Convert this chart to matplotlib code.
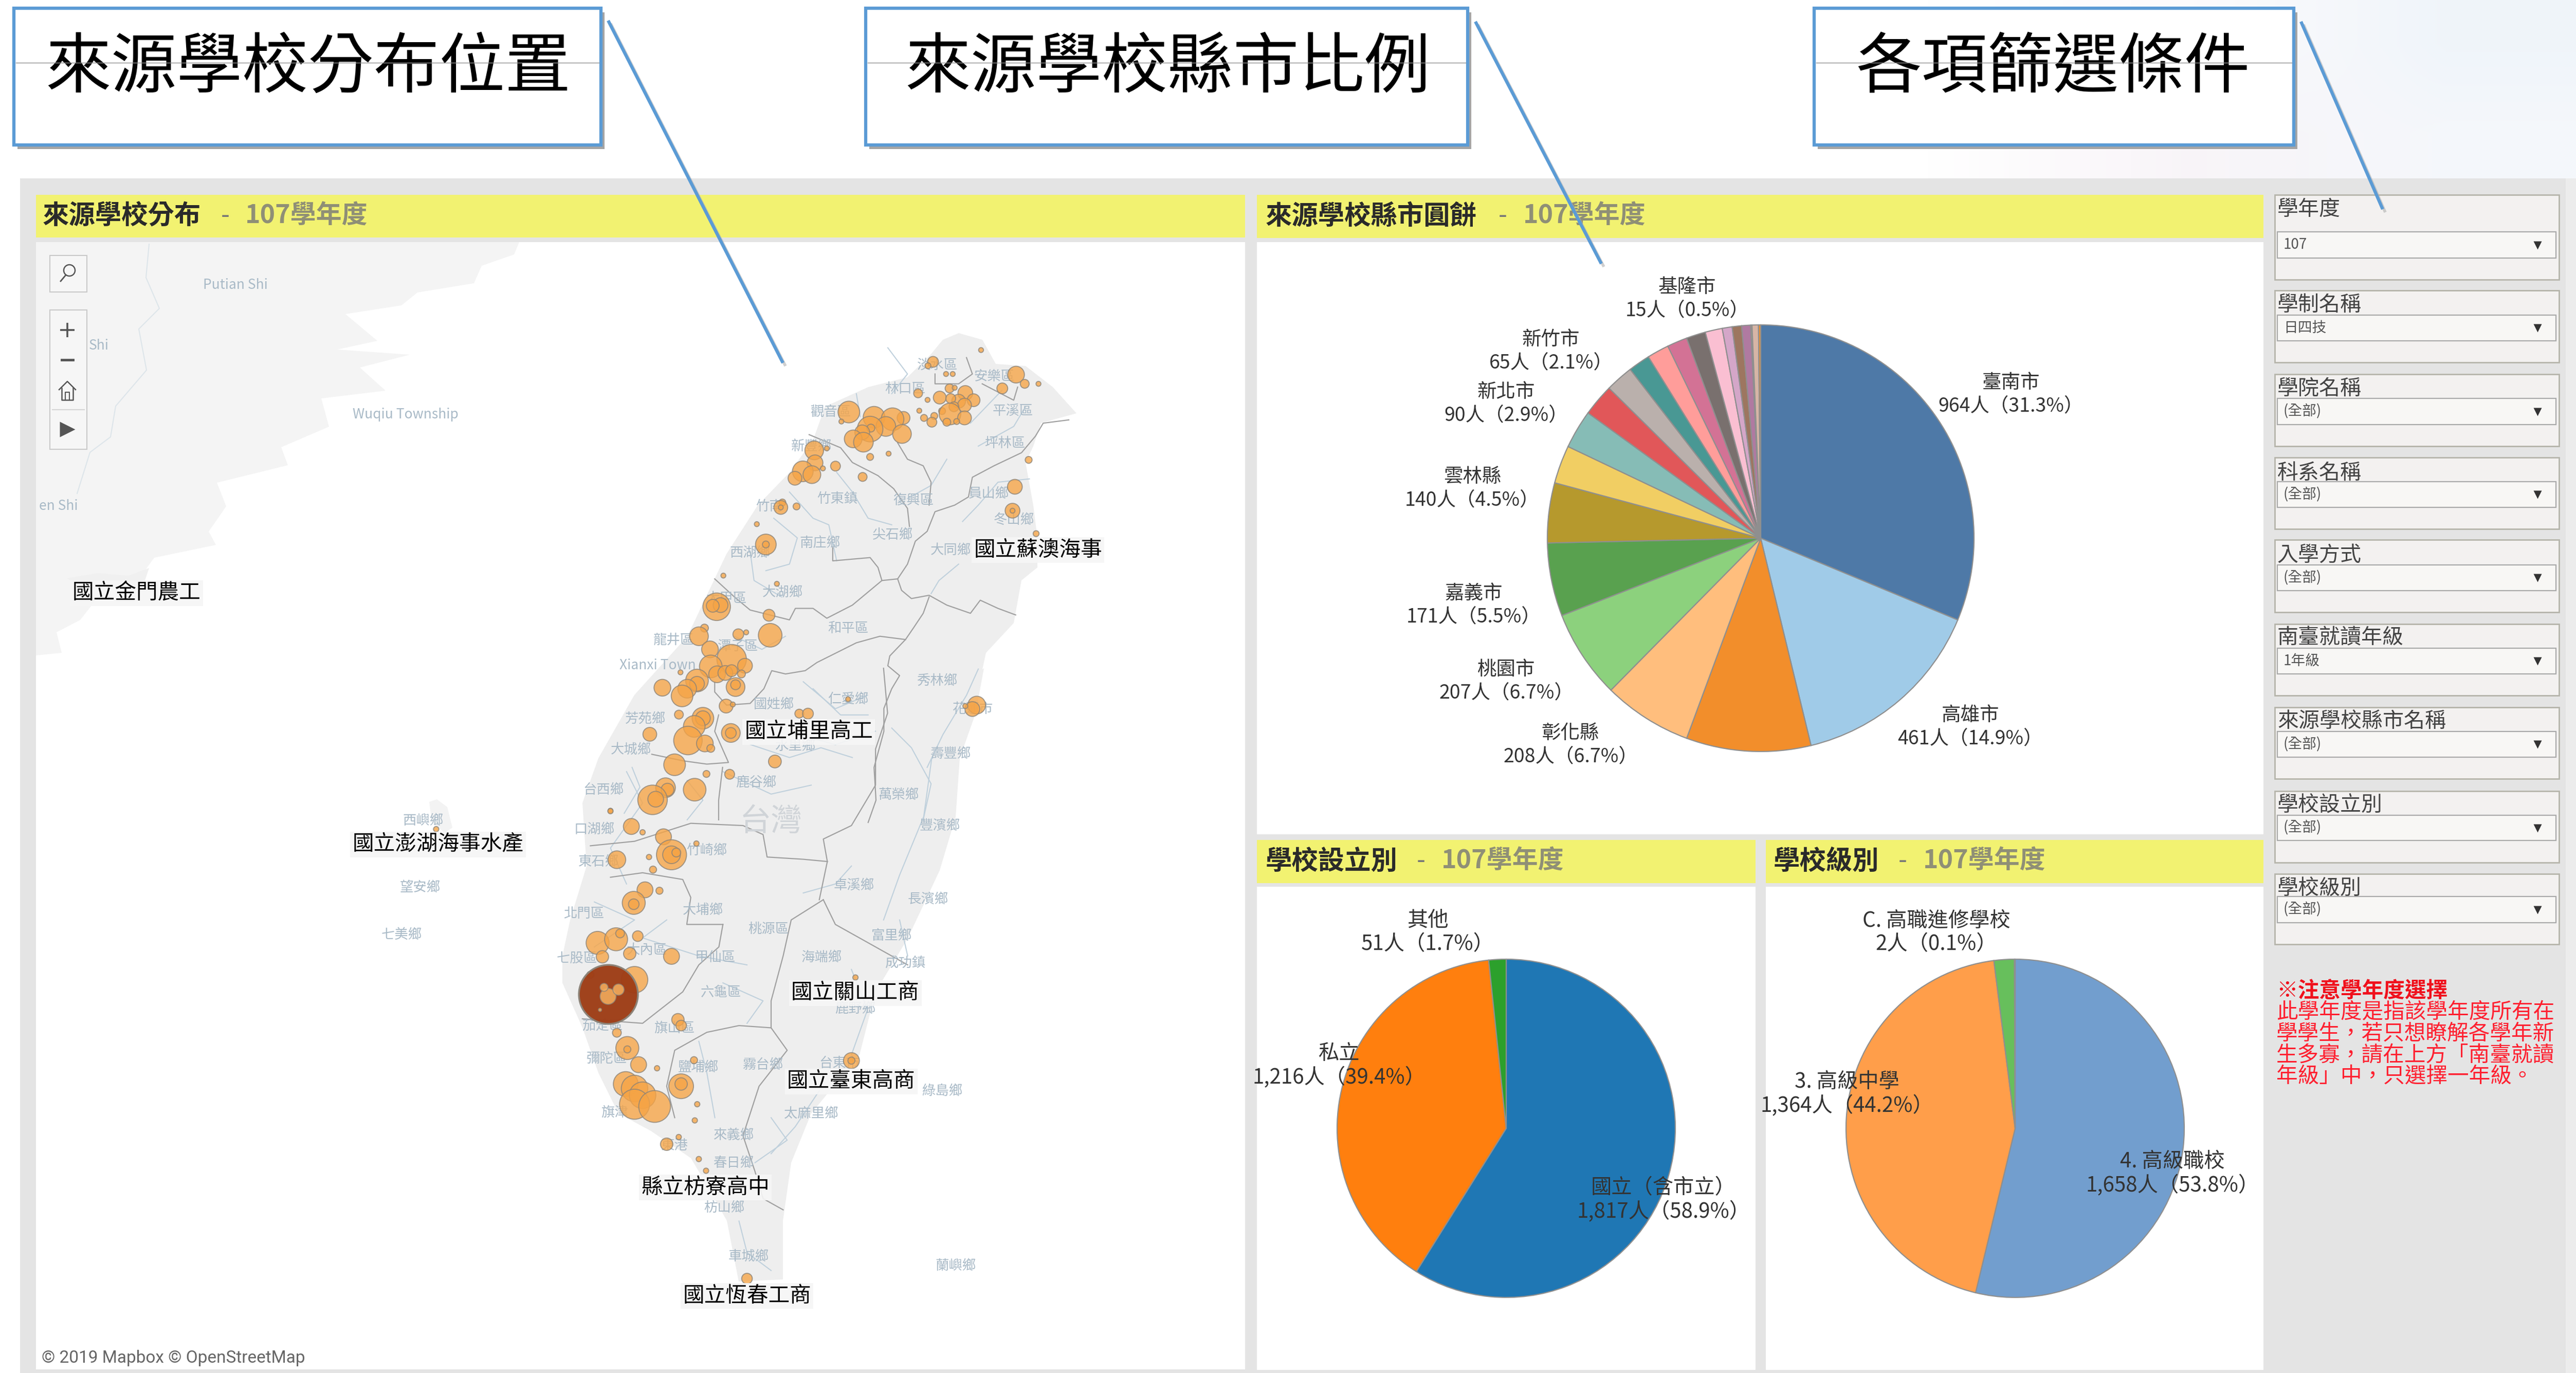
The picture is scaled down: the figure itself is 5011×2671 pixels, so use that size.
#!/usr/bin/env python3

import numpy as np
import matplotlib
matplotlib.use('Agg')
import matplotlib.pyplot as plt
from matplotlib.patches import Rectangle, Polygon, Circle

plt.rcParams['font.family'] = ['Noto Sans CJK TC', 'DejaVu Sans']

W, H = 5011, 2671

# pie data
city_values = [964, 461, 291, 208, 207, 171, 140, 89, 90, 75, 65, 51, 51, 47, 45, 40, 23, 22, 21, 3, 15, 5]
city_colors = ['#4e79a7', '#a0cbe8', '#f28e2b', '#ffbe7d', '#8cd17d', '#59a14f', '#b6992d', '#f1ce63',
               '#86bcb6', '#e15759', '#bab0ac', '#499894', '#ff9d9a', '#d37295', '#79706e', '#fabfd2',
               '#d4a6c8', '#9d7660', '#b07aa1', '#f1ce63', '#d7b5a6', '#f28e2b']
city_labels = ['臺南市\n964人（31.3%）', '高雄市\n461人（14.9%）', '彰化縣\n208人（6.7%）', '桃園市\n207人（6.7%）',
               '嘉義市\n171人（5.5%）', '雲林縣\n140人（4.5%）', '新北市\n90人（2.9%）', '新竹市\n65人（2.1%）',
               '基隆市\n15人（0.5%）']
city_label_x = [3912, 3833, 3055, 2930, 2867, 2864, 2930, 3017, 3282]
city_label_y = [767, 1414, 1449, 1325, 1177, 950, 785, 683, 581]

type_values = [1817, 1216, 51]
type_colors = ['#1f77b4', '#ff7f0e', '#2ca02c']
type_labels = ['國立（含市立）\n1,817人（58.9%）', '私立\n1,216人（39.4%）', '其他\n51人（1.7%）']
type_label_x = [3236, 2605, 2777]
type_label_y = [2334, 2073, 1814]

level_values = [1658, 1364, 60, 2]
level_colors = ['#729ece', '#ff9e4a', '#67bf5c', '#ed665d']
level_labels = ['4. 高級職校\n1,658人（53.8%）', '3. 高級中學\n1,364人（44.2%）', 'C. 高職進修學校\n2人（0.1%）']
level_label_x = [4226, 3593, 3767]
level_label_y = [2283, 2128, 1814]

# filters on the right
filter_names = ['學年度', '學制名稱', '學院名稱', '科系名稱', '入學方式', '南臺就讀年級', '來源學校縣市名稱', '學校設立別', '學校級別']
filter_values = ['107', '日四技', '(全部)', '(全部)', '(全部)', '1年級', '(全部)', '(全部)', '(全部)']
filter_top = [379, 565, 728, 890, 1050, 1214, 1376, 1539, 1700]
filter_bottom = [544, 705, 868, 1029, 1191, 1353, 1515, 1678, 1837]
filter_label_y = [407, 593, 756, 920, 1080, 1241, 1404, 1567, 1729]
drop_top = [451, 613, 775, 937, 1099, 1261, 1423, 1586, 1744]
drop_bottom = [502, 663, 826, 987, 1149, 1311, 1473, 1635, 1795]

note_lines = ['此學年度是指該學年度所有在', '學學生，若只想瞭解各學年新', '生多寡，請在上方「南臺就讀', '年級」中，只選擇一年級。']
note_y = [1970, 2011, 2054, 2095]

# map shapes in full size pixels
taiwan_x = [1834, 1865, 1911, 1937, 1995, 2048, 2094, 2025, 2010, 1995, 2010, 2018, 2018, 1987, 1972, 1918, 1911,
            1914, 1898, 1867, 1859, 1828, 1766, 1703, 1672, 1578, 1539, 1523, 1523, 1437, 1414, 1375, 1344, 1266,
            1203, 1164, 1133, 1094, 1094, 1109, 1141, 1133, 1164, 1234, 1337, 1413, 1474, 1536, 1582, 1605, 1689,
            1765, 1811]
taiwan_y = [661, 648, 661, 708, 712, 753, 804, 823, 868, 900, 983, 1046, 1104, 1129, 1212, 1270, 1302,
            1300, 1387, 1475, 1589, 1693, 1825, 1930, 2052, 2166, 2262, 2375, 2489, 2493, 2375, 2305, 2253, 2200,
            2166, 2087, 1999, 1912, 1860, 1790, 1685, 1562, 1475, 1352, 1238, 1078, 983, 919, 855, 791, 753,
            734, 689]
china_x = [70, 1010, 1000, 937, 922, 812, 781, 672, 734, 656, 797, 700, 750, 625, 640, 547, 560, 422, 440, 406,
           420, 300, 281, 200, 156, 110, 120, 70]
china_y = [471, 471, 495, 517, 551, 569, 594, 611, 663, 680, 690, 715, 760, 775, 830, 870, 905, 939, 985, 1034,
           1060, 1085, 1111, 1150, 1206, 1230, 1270, 1275]
kinmen_x = [130, 190, 250, 290, 280, 230, 160]
kinmen_y = [1125, 1115, 1120, 1105, 1135, 1145, 1140]
penghu_x = [835, 850, 870, 880, 865, 840]
penghu_y = [1560, 1555, 1570, 1610, 1620, 1600]

# county lines and rivers in the two map crops I measured
lines_north = [
    [(1410, 340), (1345, 350), (1325, 390), (1290, 440), (1220, 480), (1165, 515), (1155, 575), (1120, 600), (1070, 620),
     (1050, 680), (1020, 710), (1000, 780), (975, 825), (935, 830), (925, 790), (905, 760), (810, 770), (810, 730)],
    [(975, 825), (985, 860), (1010, 885), (1055, 875), (1100, 905), (1160, 930), (1185, 890), (1230, 915), (1275, 935)],
    [(1055, 880), (1040, 930), (1015, 975), (995, 1010), (955, 1060), (950, 1090), (980, 1120), (960, 1160), (940, 1220),
     (940, 1290), (915, 1400), (920, 1500), (900, 1568)],
    [(935, 830), (895, 870), (860, 905), (795, 945), (760, 915), (715, 915), (700, 950), (650, 935), (600, 920),
     (560, 880), (510, 825)],
    [(995, 1010), (930, 1000), (870, 1020), (820, 1050), (770, 1080), (740, 1105), (690, 1115), (655, 1105), (635, 1160),
     (600, 1205), (540, 1210), (510, 1170), (510, 1140)],
    [(750, 385), (830, 425), (860, 470), (925, 510), (965, 550), (1000, 610), (1005, 665)],
    [(975, 410), (1000, 460), (1040, 480), (1060, 530), (1055, 600)],
    [(1150, 150), (1165, 200), (1130, 230), (1070, 230), (1070, 200)],
    [(1190, 230), (1270, 280), (1280, 240)],
    [(520, 1240), (510, 1290), (545, 1385), (490, 1390), (430, 1380), (350, 1360)],
    [(530, 1400), (520, 1500), (520, 1560)],
]
lines_south = [
    [(735, 395), (790, 385), (860, 345), (925, 350), (950, 370), (955, 420), (1000, 425), (1030, 430)],
    [(1030, 430), (1025, 380), (1060, 350), (1090, 260), (1090, 180), (1105, 100), (1100, 0)],
    [(760, 465), (800, 455), (850, 470), (860, 510), (855, 570), (900, 570)],
    [(900, 570), (895, 620), (870, 660), (850, 720), (800, 790), (725, 780)],
    [(1025, 515), (985, 560), (975, 640), (960, 740), (960, 800), (920, 795), (880, 810), (840, 850), (830, 930), (840, 1000)],
    [(960, 800), (980, 850), (945, 930), (925, 1040), (940, 1120), (950, 1180), (975, 1205)],
    [(1025, 515), (1040, 570), (1090, 620), (1130, 660)],
    [(1030, 430), (1020, 515)],
]
rivers_north = [
    [(1310, 520), (1230, 530), (1180, 600), (1140, 650)], [(1130, 780), (1080, 830), (1060, 870)],
    [(700, 560), (760, 640), (800, 660), (820, 770)], [(600, 740), (610, 830), (680, 880)],
    [(820, 500), (860, 560), (900, 640), (960, 660)], [(1180, 1100), (1150, 1180), (1090, 1300), (1050, 1400)],
    [(760, 1160), (830, 1240), (900, 1240)], [(600, 1330), (700, 1370), (780, 1340), (860, 1370)],
    [(1240, 250), (1200, 300), (1160, 350)], [(1300, 300), (1270, 360), (1180, 420)],
    [(300, 1400), (320, 1460), (280, 1540)], [(960, 1280), (1010, 1340), (1060, 1450), (1040, 1560)],
    [(660, 640), (720, 700), (700, 780), (640, 800)], [(950, 120), (1000, 200), (960, 260)],
    [(870, 260), (880, 330)], [(1100, 460), (1060, 540), (1000, 580)], [(560, 1000), (630, 1040), (690, 1000)],
    [(440, 1440), (480, 1500), (440, 1560)],
]
rivers_south = [
    [(780, 230), (800, 300), (760, 400), (780, 480)], [(1160, 200), (1150, 330), (1120, 460), (1100, 560)],
    [(830, 560), (800, 600), (870, 640), (930, 660)], [(1000, 500), (1040, 480), (1060, 440)],
    [(900, 700), (950, 740), (930, 790)], [(1060, 670), (1080, 760), (1060, 860)],
    [(870, 830), (880, 900), (890, 1000)], [(960, 1000), (980, 1050), (940, 1100)],
    [(920, 1230), (930, 1300), (960, 1340)], [(1000, 150), (1040, 170), (1090, 140)],
    [(1000, 30), (1040, 90), (1080, 60)], [(900, 230), (960, 280), (1010, 260)], [(740, 520), (790, 560), (740, 620)],
    [(1130, 640), (1120, 560)], [(1020, 940), (990, 1020), (960, 1080)],
]

# school bubbles: x, y, diameter in the same crops
north_x = [1187, 1065, 1052, 1276, 1098, 1115, 1298, 1333, 1241, 1107, 1120, 1027, 1051, 1082, 1147, 1168, 1130, 1110, 1145,
           1118, 1088, 1030, 1108, 1145, 1042, 1068, 1062, 1100, 1125, 851, 990, 915, 962, 945, 905, 907, 885, 986, 862,
           888, 832, 905, 952, 795, 763, 765, 734, 757, 714, 785, 817, 886, 1308, 1273, 1267, 1267, 1327, 682, 678, 678,
           718, 617, 640, 640, 532, 668, 515, 525, 505, 648, 484, 470, 570, 590, 651, 498, 553, 500, 587, 516, 537, 553,
           578, 423, 465, 465, 440, 427, 377, 563, 563, 539, 556, 1176, 1165, 1147, 849, 725, 747, 480, 480, 458, 419,
           345, 442, 485, 500, 551, 551, 408, 663, 548, 489, 459, 385, 390, 352, 360, 245]
north_y = [127, 163, 175, 202, 200, 200, 230, 230, 244, 244, 242, 259, 279, 272, 258, 280, 283, 275, 295,
           300, 313, 312, 322, 334, 334, 328, 347, 347, 345, 316, 334, 332, 338, 360, 368, 365, 378, 383, 398,
           408, 345, 453, 443, 427, 433, 471, 497, 507, 518, 488, 481, 514, 462, 544, 617, 617, 687, 592, 607, 607,
           604, 658, 720, 720, 815, 840, 910, 905, 907, 936, 975, 1000, 994, 988, 997, 1040, 1070, 1092, 1090, 1116, 1112, 1105,
           1115, 1110, 1135, 1145, 1160, 1182, 1157, 1155, 1148, 1213, 1208, 1210, 1222, 1213, 1192, 1236, 1236, 1250, 1250, 1275, 1239,
           1299, 1318, 1327, 1342, 1295, 1295, 1392, 1382, 1421, 1420, 1468, 1462, 1468, 1499, 1497, 1532]
north_d = [10, 22, 12, 34, 10, 10, 18, 10, 22, 18, 10, 18, 10, 26, 30, 26, 28, 20, 28,
           20, 14, 10, 44, 28, 14, 14, 20, 16, 12, 44, 26, 44, 46, 40, 52, 16, 30, 38, 36,
           40, 10, 14, 10, 10, 38, 32, 42, 36, 28, 10, 20, 18, 14, 30, 30, 10, 12, 14, 28, 10,
           14, 10, 42, 14, 10, 10, 56, 30, 26, 24, 16, 38, 22, 10, 48, 34, 60, 46, 30, 34, 30, 24,
           16, 10, 46, 30, 38, 44, 34, 38, 20, 28, 10, 36, 30, 10, 10, 18, 22, 44, 30, 44, 18,
           28, 58, 34, 16, 38, 22, 44, 26, 20, 14, 46, 40, 26, 60, 32, 10]
south_x = [543, 786, 760, 800, 826, 836, 836, 842, 867, 808, 768, 813, 803, 821, 789, 789, 794, 744, 767, 772, 750, 784,
           836, 790, 735, 844, 848, 768, 781, 781, 795, 818, 864, 848, 848, 779, 790, 800, 790, 815, 868, 865, 830, 845,
           870, 879, 1065, 1060, 1060, 930]
south_y = [358, 352, 318, 365, 375, 415, 415, 410, 390, 420, 426, 448, 493, 495, 522, 525, 596, 611, 603, 590, 642, 635,
           641, 693, 682, 782, 795, 811, 845, 848, 882, 890, 872, 930, 925, 925, 935, 950, 970, 975, 970, 1006, 1059, 1043,
           1092, 1118, 688, 873, 873, 1358]
south_d = [6, 18, 6, 6, 18, 34, 20, 10, 6, 6, 20, 8, 18, 8, 26, 12, 12, 26, 26, 10, 14, 14,
           18, 30, 8, 14, 12, 10, 26, 8, 18, 6, 8, 28, 14, 28, 30, 30, 34, 36, 6, 6, 14, 6,
           6, 6, 6, 18, 8, 12]
tainan_x, tainan_y, tainan_d = [757], [725], [70]
tainan_inner_x = [757, 770, 752, 747]
tainan_inner_y = [730, 715, 710, 760]
tainan_inner_d = [20, 14, 10, 4]

# map text
place_names = ['淡水區', '安樂區', '林口區', '觀音區', '平溪區', '新豐鄉', '坪林區', '竹東鎮', '復興區', '員山鄉', '竹南', '冬山鄉', '尖石鄉',
               '南庄鄉', '西湖鄉', '大同鄉', '大湖鄉', '大甲區', '和平區', '龍井區', '潭子區', '秀林鄉', '國姓鄉', '仁愛鄉', '花蓮市', '芳苑鄉',
               '大城鄉', '壽豐鄉', '水里鄉', '鹿谷鄉', '萬榮鄉', '台西鄉', '口湖鄉', '西嶼鄉', '豐濱鄉', '竹崎鄉', '東石鄉', '卓溪鄉', '望安鄉',
               '長濱鄉', '北門區', '大埔鄉', '七美鄉', '富里鄉', '桃源區', '海端鄉', '成功鎮', '七股區', '大內區', '甲仙區', '六龜區', '旗山區',
               '茄萣區', '鹿野鄉', '彌陀區', '鹽埔鄉', '霧台鄉', '綠島鄉', '台東市', '太麻里鄉', '旗津', '來義鄉', '東港', '春日鄉', '枋山鄉',
               '車城鄉', '蘭嶼鄉', 'Putian Shi', 'Wuqiu Township', 'Shi', 'en Shi', 'Xianxi Town']
place_x = [1823, 1934, 1761, 1616, 1970, 1578, 1955, 1629, 1777, 1924, 1497, 1972, 1736,
           1595, 1459, 1849, 1522, 1413, 1650, 1310, 1436, 1823, 1505, 1650, 1892, 1255,
           1227, 1849, 1547, 1471, 1748, 1174, 1156, 823, 1828, 1375, 1164, 1661, 817,
           1805, 1136, 1367, 781, 1734, 1495, 1598, 1761, 1122, 1258, 1391, 1402, 1312,
           1172, 1664, 1180, 1359, 1484, 1833, 1633, 1578, 1195, 1427, 1312, 1427, 1409,
           1456, 1859, 458, 789, 192, 114, 1279]
place_y = [710, 733, 756, 801, 799, 868, 863, 970, 973, 960, 985, 1011, 1040,
           1056, 1075, 1070, 1152, 1164, 1222, 1245, 1257, 1324, 1370, 1360, 1379, 1398,
           1458, 1466, 1451, 1523, 1546, 1537, 1613, 1596, 1606, 1654, 1676, 1722, 1726,
           1749, 1777, 1770, 1818, 1820, 1807, 1862, 1873, 1864, 1849, 1862, 1930, 2000,
           1995, 1962, 2059, 2076, 2071, 2122, 2069, 2166, 2164, 2209, 2229, 2262, 2349,
           2444, 2463, 554, 807, 672, 984, 1295]
school_names = ['國立金門農工', '國立蘇澳海事', '國立埔里高工', '國立澎湖海事水產', '國立關山工商', '國立臺東高商', '縣立枋寮高中', '國立恆春工商']
school_x = [266, 2019, 1573, 852, 1664, 1656, 1372, 1453]
school_y = [1154, 1070, 1424, 1643, 1932, 2104, 2310, 2521]


def north_xy(pts):
    return [1000 + p[0] / 1.3067 for p in pts], [600 + p[1] / 1.568 for p in pts]


def south_xy(pts):
    return [p[0] / 0.64 for p in pts], [1300 + p[1] / 1.1437 for p in pts]


def rect(ax, x0, y0, x1, y1, color, edge='none', lw=0, z=1):
    ax.add_patch(Rectangle((x0, y0), x1 - x0, y1 - y0, facecolor=color, edgecolor=edge, linewidth=lw, zorder=z))


def title(ax, x, dash_x, year_x, y, text):
    ax.text(x, y, text, fontsize=37, fontweight='bold', color='#2a2a2a', va='center', zorder=5)
    ax.text(dash_x, y, '-', fontsize=35, color='#777777', va='center', zorder=5)
    ax.text(year_x, y, '107學年度', fontsize=36, fontweight='bold', color='#8f8f76', va='center', zorder=5)


def pie_axes(fig, cx, cy, r, values, colors):
    ax = fig.add_axes([(cx - r) / W, 1 - (cy + r) / H, 2 * r / W, 2 * r / H], zorder=1)
    ax.pie(values, colors=colors, startangle=90, counterclock=False, radius=1,
           wedgeprops={'edgecolor': '#8f8f8f', 'linewidth': 1.6, 'clip_on': False}, frame=True)
    ax.set_xlim(-1, 1)
    ax.set_ylim(-1, 1)
    ax.axis('off')
    return ax


def callout(ax, x0, y0, x1, y1, text, text_x, lx0, ly0, lx1, ly1):
    rect(ax, x0 + 7, y0 + 8, x1 + 7, y1 + 8, '#a5a5a5', z=6)
    rect(ax, x0, y0, x1, y1, 'white', edge='#5b9bd5', lw=4.5, z=7)
    ax.text(text_x, 134, text, fontsize=92, color='black', va='center', ha='left', zorder=8, fontweight='light')
    ax.plot([x0 + 4, x1 - 4], [122, 122], color='#909090', lw=1, zorder=9)
    ax.plot([lx0 + 5, lx1 + 5], [ly0 + 6, ly1 + 6], color='#b0b0b0', lw=4, alpha=0.6, zorder=6, solid_capstyle='butt')
    ax.plot([lx0, lx1], [ly0, ly1], color='#5b9bd5', lw=4.5, zorder=7, solid_capstyle='butt')


def main():
    fig = plt.figure(figsize=(W / 100, H / 100), dpi=100, facecolor='white')

    bg = fig.add_axes([0, 0, 1, 1], zorder=0)
    over = fig.add_axes([0, 0, 1, 1], zorder=2)
    over.patch.set_alpha(0)

    # faint slide background top right
    grad = np.array([[[1, 1, 1], [0.99, 0.985, 0.99], [0.94, 0.96, 0.98]],
                     [[1, 1, 1], [0.975, 0.96, 0.975], [0.96, 0.97, 0.985]]])
    bg.imshow(grad, extent=(3500, W, 347, 0), aspect='auto', interpolation='bilinear', zorder=0)

    rect(bg, 39, 347, W, H, '#e4e4e4')
    rect(bg, 4991, 347, W, H, '#ececec', z=1.1)

    # panels
    rect(bg, 70, 379, 2422, 462, '#f2f271', z=2)
    rect(bg, 70, 471, 2422, 2664, 'white', z=2)
    rect(bg, 2445, 379, 4403, 463, '#f2f271', z=2)
    rect(bg, 2445, 471, 4403, 1623, 'white', z=2)
    rect(bg, 2445, 1634, 3415, 1718, '#f2f271', z=2)
    rect(bg, 2445, 1725, 3415, 2665, 'white', z=2)
    rect(bg, 3435, 1634, 4403, 1718, '#f2f271', z=2)
    rect(bg, 3435, 1725, 4403, 2665, 'white', z=2)

    title(bg, 83, 430, 477, 420, '來源學校分布')
    title(bg, 2462, 2915, 2963, 420, '來源學校縣市圓餅')
    title(bg, 2462, 2756, 2804, 1675, '學校設立別')
    title(bg, 3450, 3693, 3741, 1675, '學校級別')

    # map
    bg.add_patch(Polygon(list(zip(china_x, china_y)), facecolor='#f4f4f4', edgecolor='none', zorder=2.1))
    bg.add_patch(Polygon(list(zip(kinmen_x, kinmen_y)), facecolor='#f0f0f0', edgecolor='none', zorder=2.1))
    bg.add_patch(Polygon(list(zip(penghu_x, penghu_y)), facecolor='#f3f3f3', edgecolor='none', zorder=2.1))
    bg.add_patch(Polygon(list(zip(taiwan_x, taiwan_y)), facecolor='#eeeeee', edgecolor='none', zorder=2.1))
    bg.plot([290, 284, 310, 270, 285, 225, 215, 175, 150], [475, 540, 600, 640, 720, 790, 850, 880, 960],
            color='#dde5ea', lw=1.5, zorder=2.2)
    for pts in rivers_north:
        xs, ys = north_xy(pts)
        bg.plot(xs, ys, color='#bfd0dc', lw=1.5, zorder=2.2)
    for pts in rivers_south:
        xs, ys = south_xy(pts)
        bg.plot(xs, ys, color='#bfd0dc', lw=1.5, zorder=2.2)
    for pts in lines_north:
        xs, ys = north_xy(pts)
        bg.plot(xs, ys, color='#a0a0a0', lw=1.6, zorder=2.3)
    for pts in lines_south:
        xs, ys = south_xy(pts)
        bg.plot(xs, ys, color='#a0a0a0', lw=1.6, zorder=2.3)
    for name, x, y in zip(place_names, place_x, place_y):
        bg.text(x, y, name, fontsize=19, color='#a9bac7', ha='center', va='center', zorder=2.4)
    bg.text(1500, 1599, '台灣', fontsize=44, color='#d0d4d8', ha='center', va='center', zorder=2.4)

    xs, ys = north_xy(list(zip(north_x, north_y)))
    sizes = [(d * 1.25 / 1.3067 * 0.72) ** 2 for d in north_d]
    bg.scatter(xs, ys, s=sizes, c='#f6a445', alpha=0.78, edgecolors='#8b8378', linewidths=1.4, zorder=3)
    xs, ys = south_xy(list(zip(south_x, south_y)))
    sizes = [(d * 1.1 / 0.64 * 0.72) ** 2 for d in south_d]
    bg.scatter(xs, ys, s=sizes, c='#f6a445', alpha=0.78, edgecolors='#8b8378', linewidths=1.4, zorder=3)
    xs, ys = south_xy(list(zip(tainan_x, tainan_y)))
    sizes = [(d * 1.05 / 0.64 * 0.72) ** 2 for d in tainan_d]
    bg.scatter(xs, ys, s=sizes, c='#9e3d16', alpha=0.97, edgecolors='#8b8378', linewidths=2.5, zorder=3.1)
    xs, ys = south_xy(list(zip(tainan_inner_x, tainan_inner_y)))
    sizes = [(d / 0.64 * 0.72) ** 2 for d in tainan_inner_d]
    bg.scatter(xs, ys, s=sizes, c='#f6b060', alpha=0.85, edgecolors='#8b8378', linewidths=1.2, zorder=3.2)

    for name, x, y in zip(school_names, school_x, school_y):
        bg.text(x, y, name, fontsize=30, color='black', ha='center', va='center', zorder=4,
                bbox={'facecolor': '#f6f6f6', 'edgecolor': 'none', 'pad': 3, 'alpha': 0.9})
    bg.text(81, 2642, '© 2019 Mapbox © OpenStreetMap', fontsize=24, color='#666666', family='Roboto', va='center', zorder=4)

    # map controls
    rect(bg, 97, 497, 169, 568, '#f6f6f6', edge='#c9c9c9', lw=1.5, z=4)
    rect(bg, 97, 603, 169, 874, '#f6f6f6', edge='#c9c9c9', lw=1.5, z=4)
    bg.add_patch(Circle((135, 526), 11, facecolor='none', edgecolor='#555555', linewidth=1.8, zorder=5))
    bg.plot([128, 118], [535, 547], color='#555555', lw=2, zorder=5)
    bg.plot([131], [642], marker='+', ms=20, mew=2.6, color='#555555', zorder=5)
    bg.plot([120, 142], [700, 700], color='#555555', lw=3.5, zorder=5)
    bg.plot([115, 131, 147], [758, 742, 758], color='#555555', lw=1.8, zorder=5)
    bg.plot([120, 120, 142, 142], [755, 778, 778, 755], color='#555555', lw=1.8, zorder=5)
    bg.plot([127, 127, 135, 135], [778, 763, 763, 778], color='#555555', lw=1.5, zorder=5)
    bg.plot([102, 164], [797, 797], color='#d5d5d5', lw=1.5, zorder=5)
    bg.plot([131], [835], marker='>', ms=22, color='#555555', mec='none', zorder=5, clip_on=False)

    # filters
    for i in range(len(filter_names)):
        rect(bg, 4425, filter_top[i], 4978, filter_bottom[i], '#f3f1f0', edge='#b5b4aa', lw=2, z=2)
        rect(bg, 4430, drop_top[i], 4972, drop_bottom[i], '#f8f7f5', edge='#a9a9a9', lw=1.6, z=2.1)
        bg.text(4430, filter_label_y[i], filter_names[i], fontsize=29.5, color='#444444', va='center', zorder=3)
        bg.text(4442, (drop_top[i] + drop_bottom[i]) / 2, filter_values[i], fontsize=20, color='#555555',
                va='center', zorder=3)
        bg.plot([4936], [(drop_top[i] + drop_bottom[i]) / 2], marker='v', ms=11, color='#333333', mec='none', zorder=3)

    bg.text(4428, 1928, '※注意學年度選擇', fontsize=30, fontweight='bold', color='#f0101c', va='center', zorder=3)
    for line, y in zip(note_lines, note_y):
        bg.text(4428, y, line, fontsize=30, color='#ff2030', va='center', zorder=3, linespacing=1)

    bg.set_xlim(0, W)
    bg.set_ylim(H, 0)
    bg.axis('off')

    # pies
    pie_axes(fig, 3425, 1047, 415, city_values, city_colors)
    pie_axes(fig, 2930, 2195, 329, type_values, type_colors)
    pie_axes(fig, 3920, 2195, 329, level_values, level_colors)

    for label, x, y in zip(city_labels, city_label_x, city_label_y):
        over.text(x, y, label, fontsize=27, color='#333333', ha='center', va='center', linespacing=1.22, zorder=4)
    for label, x, y in zip(type_labels, type_label_x, type_label_y):
        over.text(x, y, label, fontsize=29, color='#333333', ha='center', va='center', linespacing=1.13, zorder=4)
    for label, x, y in zip(level_labels, level_label_x, level_label_y):
        over.text(x, y, label, fontsize=29, color='#333333', ha='center', va='center', linespacing=1.13, zorder=4)

    # callout boxes on top of everything
    callout(over, 27, 16, 1169, 282, '來源學校分布位置', 88, 1183, 40, 1523, 706)
    callout(over, 1684, 16, 2855, 282, '來源學校縣市比例', 1760, 2870, 42, 3115, 513)
    callout(over, 3529, 16, 4462, 282, '各項篩選條件', 3610, 4476, 42, 4635, 407)

    over.set_xlim(0, W)
    over.set_ylim(H, 0)
    over.axis('off')

    fig.savefig('out.png', dpi=100)


if __name__ == "__main__":
    main()
